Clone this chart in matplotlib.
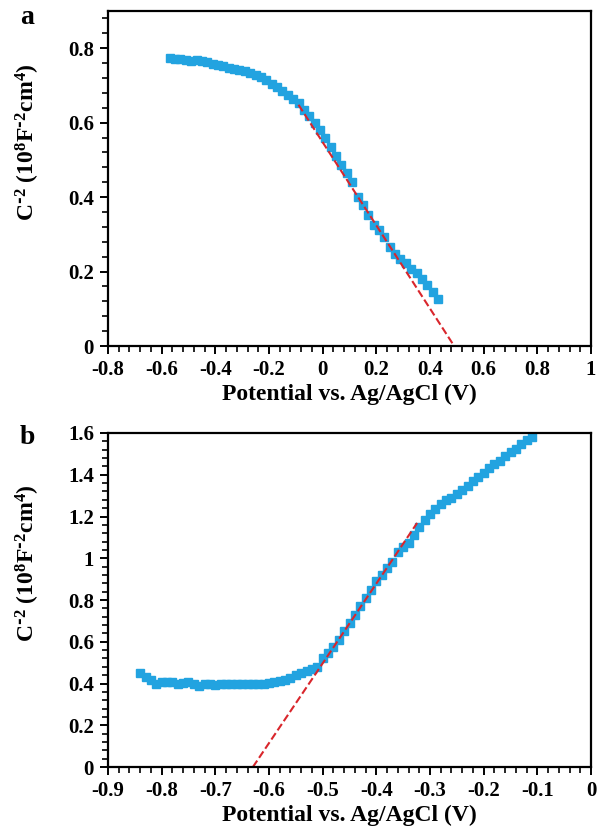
import matplotlib
matplotlib.use('Agg')
import matplotlib.pyplot as plt
from matplotlib.ticker import MultipleLocator

plt.rcParams['font.family'] = ['Liberation Serif', 'DejaVu Serif']
plt.rcParams['font.weight'] = 'bold'
plt.rcParams['mathtext.default'] = 'regular'

# panel a - Mott-Schottky data
pot_a = [-0.57, -0.55, -0.53, -0.51, -0.49, -0.47, -0.45, -0.43, -0.41, -0.39,
         -0.37, -0.35, -0.33, -0.31, -0.29, -0.27, -0.25, -0.23, -0.21, -0.19,
         -0.17, -0.15, -0.13, -0.11, -0.09, -0.07, -0.05, -0.03, -0.01, 0.01,
         0.03, 0.05, 0.07, 0.09, 0.11, 0.13, 0.15, 0.17, 0.19, 0.21,
         0.23, 0.25, 0.27, 0.29, 0.31, 0.33, 0.35, 0.37, 0.39, 0.41, 0.43]
c2_a = [0.775, 0.772, 0.770, 0.768, 0.767, 0.768, 0.767, 0.763, 0.758, 0.754,
        0.751, 0.748, 0.745, 0.742, 0.738, 0.733, 0.727, 0.722, 0.714, 0.705,
        0.696, 0.686, 0.675, 0.664, 0.652, 0.635, 0.618, 0.600, 0.580, 0.560,
        0.535, 0.510, 0.487, 0.465, 0.440, 0.400, 0.380, 0.352, 0.325, 0.312,
        0.292, 0.265, 0.248, 0.235, 0.222, 0.208, 0.195, 0.180, 0.165, 0.145, 0.125]
fit_a_x = [-0.09, 0.49]
fit_a_y = [0.648, 0.0]

# panel b
pot_b = [-0.84, -0.83, -0.82, -0.81, -0.80, -0.79, -0.78, -0.77, -0.76, -0.75,
         -0.74, -0.73, -0.72, -0.71, -0.70, -0.69, -0.68, -0.67, -0.66, -0.65,
         -0.64, -0.63, -0.62, -0.61, -0.60, -0.59, -0.58, -0.57, -0.56, -0.55,
         -0.54, -0.53, -0.52, -0.51, -0.50, -0.49, -0.48, -0.47, -0.46, -0.45,
         -0.44, -0.43, -0.42, -0.41, -0.40, -0.39, -0.38, -0.37, -0.36, -0.35,
         -0.34, -0.33, -0.32, -0.31, -0.30, -0.29, -0.28, -0.27, -0.26, -0.25,
         -0.24, -0.23, -0.22, -0.21, -0.20, -0.19, -0.18, -0.17, -0.16, -0.15,
         -0.14, -0.13, -0.12, -0.11]
c2_b = [0.45, 0.43, 0.415, 0.40, 0.405, 0.408, 0.405, 0.40, 0.402, 0.405,
        0.398, 0.39, 0.398, 0.40, 0.395, 0.40, 0.398, 0.40, 0.398, 0.40,
        0.40, 0.40, 0.398, 0.40, 0.402, 0.408, 0.41, 0.415, 0.425, 0.44,
        0.45, 0.46, 0.47, 0.48, 0.52, 0.545, 0.575, 0.61, 0.65, 0.69,
        0.73, 0.77, 0.81, 0.85, 0.89, 0.92, 0.955, 0.98, 1.03, 1.055,
        1.075, 1.11, 1.15, 1.185, 1.21, 1.235, 1.26, 1.28, 1.29, 1.31,
        1.325, 1.345, 1.37, 1.39, 1.41, 1.43, 1.45, 1.465, 1.49, 1.51,
        1.525, 1.545, 1.565, 1.58]
fit_b_x = [-0.63, -0.324]
fit_b_y = [0.0, 1.169]

azul = '#22a3e0'
vermelho = '#d9262c'

fig = plt.figure(figsize=(6.05, 8.38), dpi=100)
W, H = 605, 838
ax_a = fig.add_axes([108 / W, 1 - 346 / H, 483 / W, 335 / H])
ax_b = fig.add_axes([108 / W, 1 - 767 / H, 483 / W, 334 / H])

ax_a.plot(pot_a, c2_a, 's', color=azul, ms=5.8, mec=azul)
ax_a.plot(fit_a_x, fit_a_y, '--', color=vermelho, lw=1.5)
ax_a.set_xlim(-0.8, 1.0)
ax_a.set_ylim(0, 0.9)
ax_a.set_xticks([-0.8, -0.6, -0.4, -0.2, 0, 0.2, 0.4, 0.6, 0.8, 1.0])
ax_a.set_xticklabels(['-0.8', '-0.6', '-0.4', '-0.2', '0', '0.2', '0.4', '0.6', '0.8', '1'])
ax_a.xaxis.set_minor_locator(MultipleLocator(0.04))
ax_a.set_yticks([0, 0.2, 0.4, 0.6, 0.8])
ax_a.set_yticklabels(['0', '0.2', '0.4', '0.6', '0.8'])
ax_a.yaxis.set_minor_locator(MultipleLocator(0.04))

ax_b.plot(pot_b, c2_b, 's', color=azul, ms=5.2, mec=azul)
ax_b.plot(fit_b_x, fit_b_y, '--', color=vermelho, lw=1.5)
ax_b.set_xlim(-0.9, 0.0)
ax_b.set_ylim(0, 1.6)
ax_b.set_xticks([-0.9, -0.8, -0.7, -0.6, -0.5, -0.4, -0.3, -0.2, -0.1, 0])
ax_b.set_xticklabels(['-0.9', '-0.8', '-0.7', '-0.6', '-0.5', '-0.4', '-0.3', '-0.2', '-0.1', '0'])
ax_b.xaxis.set_minor_locator(MultipleLocator(0.02))
ax_b.set_yticks([0, 0.2, 0.4, 0.6, 0.8, 1.0, 1.2, 1.4, 1.6])
ax_b.set_yticklabels(['0', '0.2', '0.4', '0.6', '0.8', '1', '1.2', '1.4', '1.6'])
ax_b.yaxis.set_minor_locator(MultipleLocator(0.04))

for ax in (ax_a, ax_b):
    for s in ax.spines.values():
        s.set_linewidth(1.6)
    ax.tick_params(which='major', direction='out', length=6, width=1.4,
                   labelsize=15, pad=4)
    ax.tick_params(which='minor', direction='out', length=4, width=1.2)
    ax.set_xlabel('Potential vs. Ag/AgCl (V)', fontsize=17, fontweight='bold', labelpad=3)
    ax.set_ylabel(r'C$^{\text{-}2}$ (10$^{8}$F$^{\text{-}2}$cm$^{4}$)',
                  fontsize=17, fontweight='bold')
    ax.yaxis.set_label_coords(-0.137, 0.61)

fig.text(27 / W, 1 - 18 / H, 'a', fontsize=20, fontweight='bold', ha='center', va='center')
fig.text(27 / W, 1 - 437 / H, 'b', fontsize=20, fontweight='bold', ha='center', va='center')

fig.savefig('out.png', dpi=100)
